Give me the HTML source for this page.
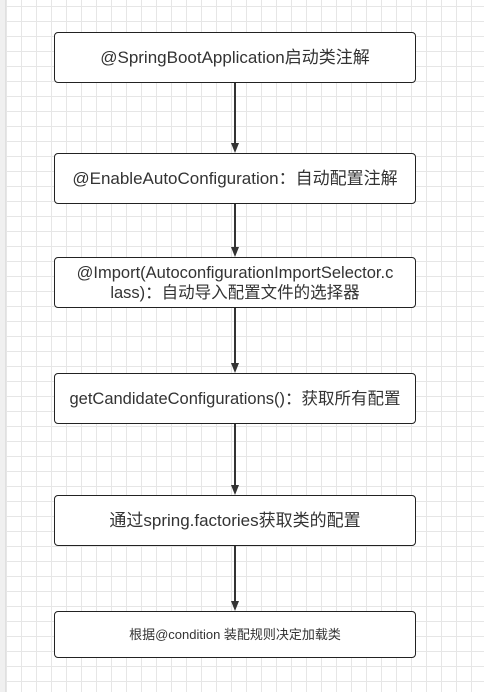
<!DOCTYPE html>
<html><head><meta charset="utf-8"><style>
html,body{margin:0;padding:0}
body{width:484px;height:692px;position:relative;overflow:hidden;background:#fff;
background-image:linear-gradient(to right,#e6e6e6 1px,transparent 1px),linear-gradient(to bottom,#e6e6e6 1px,transparent 1px);
background-size:15px 15px;background-position:6px 6px;font-family:"Liberation Sans","Noto Sans CJK SC",sans-serif;color:#333}
.strip{position:absolute;left:0;top:0;width:5px;height:692px;background:#f0f0f0;border-right:1px solid #e0e0e0}
.b{position:absolute;left:54px;width:362px;background:#fff;border:1.5px solid #222;border-radius:4px;display:flex;align-items:center;justify-content:center;text-align:center;font-size:16px;line-height:20px;box-sizing:border-box;white-space:nowrap}
svg{position:absolute;left:0;top:0}
</style></head><body>
<div class="strip"></div>
<svg width="484" height="692">
<g stroke="#333" stroke-width="2" fill="#333">
<line x1="235" y1="83" x2="235" y2="145"/><polygon points="231,143 239,143 235,153" stroke="none"/>
<line x1="235" y1="204" x2="235" y2="249"/><polygon points="231,247 239,247 235,257" stroke="none"/>
<line x1="235" y1="308" x2="235" y2="365"/><polygon points="231,363 239,363 235,373" stroke="none"/>
<line x1="235" y1="424" x2="235" y2="487"/><polygon points="231,485 239,485 235,495" stroke="none"/>
<line x1="235" y1="546" x2="235" y2="603"/><polygon points="231,601 239,601 235,611" stroke="none"/>
</g></svg>
<div class="b" style="top:32px;height:51px;font-size:17px">@SpringBootApplication启动类注解</div>
<div class="b" style="top:153px;height:51px;font-size:17px">@EnableAutoConfiguration：自动配置注解</div>
<div class="b" style="top:257px;height:51px;font-size:16.5px">@Import(AutoconfigurationImportSelector.c<br>lass)：自动导入配置文件的选择器</div>
<div class="b" style="top:373px;height:51px;font-size:16.5px">getCandidateConfigurations()：获取所有配置</div>
<div class="b" style="top:495px;height:51px;font-size:17px">通过spring.factories获取类的配置</div>
<div class="b" style="top:611px;height:47px;font-size:13px">根据@condition 装配规则决定加载类</div>
</body></html>
